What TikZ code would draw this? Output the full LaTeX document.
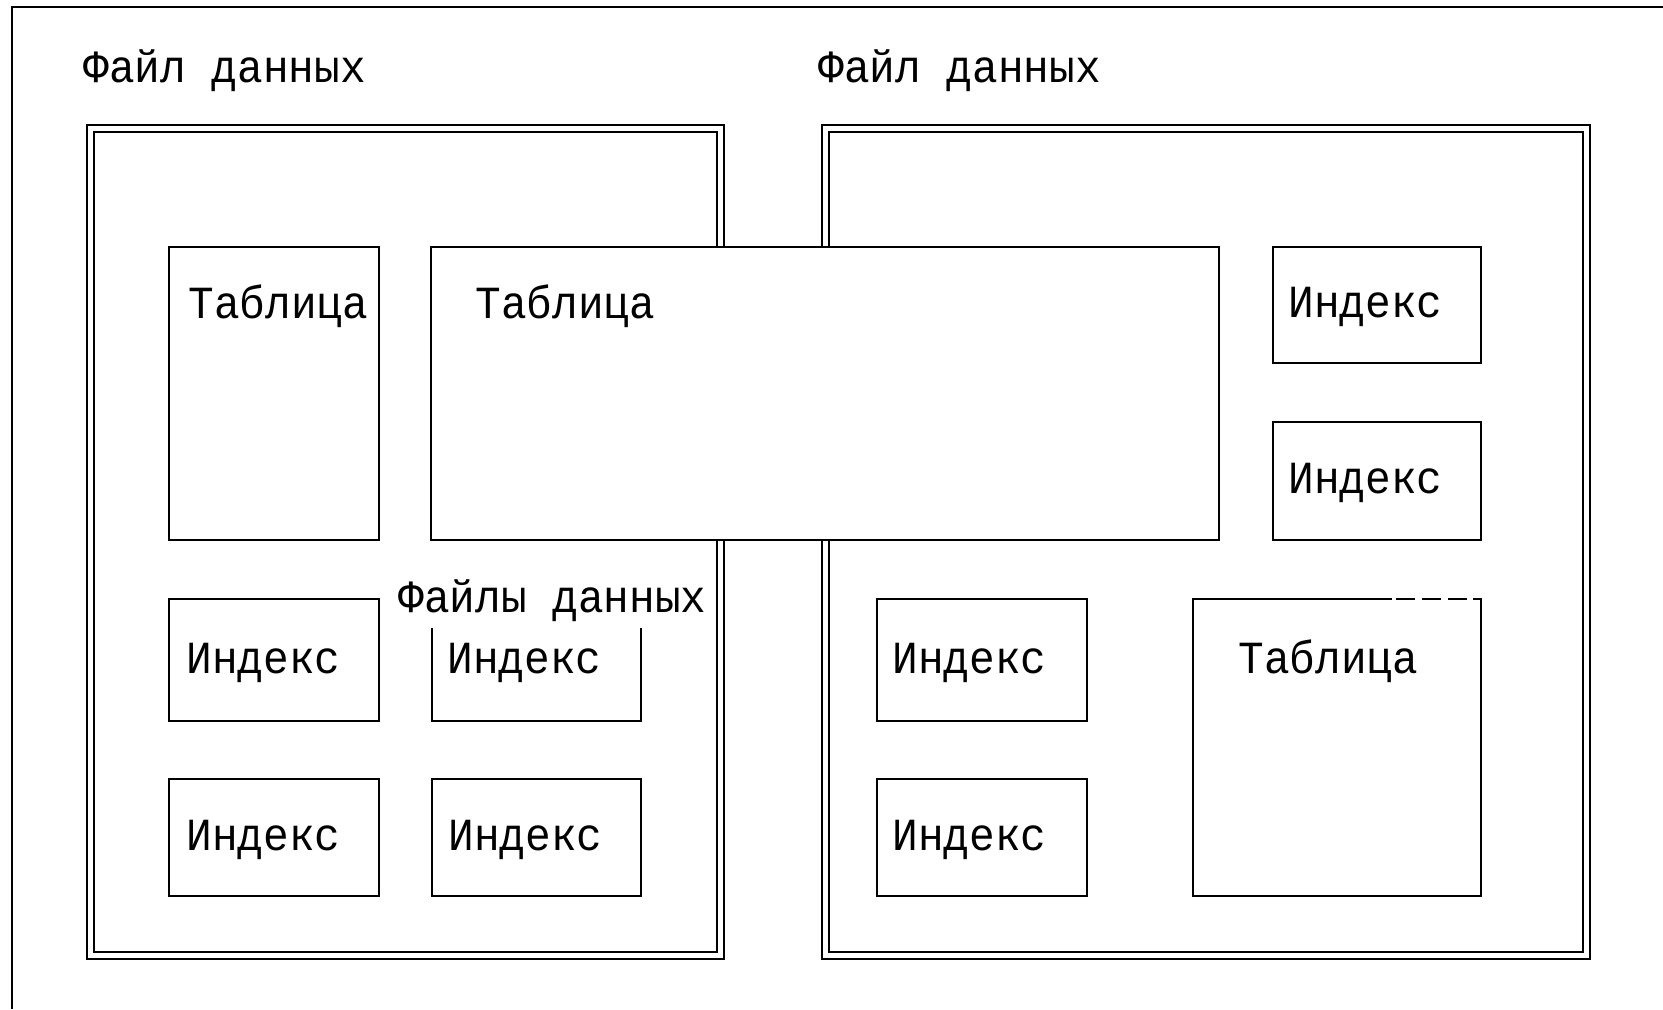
\documentclass[tikz,border=0pt]{standalone}
\usepackage{fontspec}
\newfontfamily\lblfont[FakeStretch=0.93]{Liberation Mono}
\usetikzlibrary{fit}
\begin{document}
\begin{tikzpicture}[x=0.5pt,y=-0.5pt,line width=1.45pt,
  frame/.style={draw=black,inner sep=0pt,rectangle},
  box/.style={draw=black,fill=white,inner sep=0pt,rectangle},
  lbl/.style={font=\lblfont\fontsize{23}{23}\selectfont,inner sep=0pt,anchor=base west}]
\useasboundingbox (0,0) rectangle (1663,1009);
\fill[white] (0,0) rectangle (1663,1009);

% outer frame (top and left edges)
\coordinate (fTL) at (12,7);
\coordinate (fTR) at (1663,7);
\coordinate (fBL) at (12,1009);
\draw (fTR) -- (fTL) -- (fBL);

% data files: double-line frames
\node[frame,fit={(87,125) (724,959)}] (fileL) {};
\node[frame,fit={(94,132) (717,952)}] (fileLin) {};
\node[frame,fit={(822,125) (1590,959)}] (fileR) {};
\node[frame,fit={(829,132) (1583,952)}] (fileRin) {};

\node[lbl] (fileLt) at (82,82) {Файл данных};
\node[lbl] (fileRt) at (817,82) {Файл данных};

% tables and indexes
\node[box,fit={(169,247) (379,540)}] (tblL) {};
\node[box,fit={(431,247) (1219,540)}] (tblBig) {};
\node[box,fit={(1273,247) (1481,363)}] (idxR1) {};
\node[box,fit={(1273,422) (1481,540)}] (idxR2) {};
\node[box,fit={(169,599) (379,721)}] (idxL1) {};
\node[box,fit={(432,599) (641,721)}] (idxL2) {};
\node[box,fit={(169,779) (379,896)}] (idxL3) {};
\node[box,fit={(432,779) (641,896)}] (idxL4) {};
\node[box,fit={(877,599) (1087,721)}] (idxM1) {};
\node[box,fit={(877,779) (1087,896)}] (idxM2) {};

% right table: top edge ends in dashes
\node[inner sep=0pt,outer sep=0pt,fit={(1193,599) (1481,896)}] (tblR) {};
\coordinate (tblRcut) at (1392,599);
\draw[line join=miter] (tblRcut) -- (tblR.north west) -- (tblR.south west) -- (tblR.south east) -- (tblR.north east) -- (1473,599);
\draw (1396,599) -- (1415,599) (1422,599) -- (1441,599) (1448,599) -- (1467,599);

% labels inside boxes
\node[lbl] (tblLt) at (187,318) {Таблица};
\node[lbl] (tblBigt) at (474,318) {Таблица};
\node[lbl] (idxR1t) at (1287,317) {Индекс};
\node[lbl] (idxR2t) at (1287,493) {Индекс};

% spanning label, with a white ground over the box below it
\fill[white] (390,562) rectangle (712,628);
\node[lbl] (spanT) at (397,612) {Файлы данных};

\node[lbl] (idxL1t) at (185,673) {Индекс};
\node[lbl] (idxL2t) at (446,673) {Индекс};
\node[lbl] (idxM1t) at (891,673) {Индекс};
\node[lbl] (tblRt) at (1237,673) {Таблица};
\node[lbl] (idxL3t) at (185,850) {Индекс};
\node[lbl] (idxL4t) at (447,850) {Индекс};
\node[lbl] (idxM2t) at (891,850) {Индекс};
\end{tikzpicture}
\end{document}
